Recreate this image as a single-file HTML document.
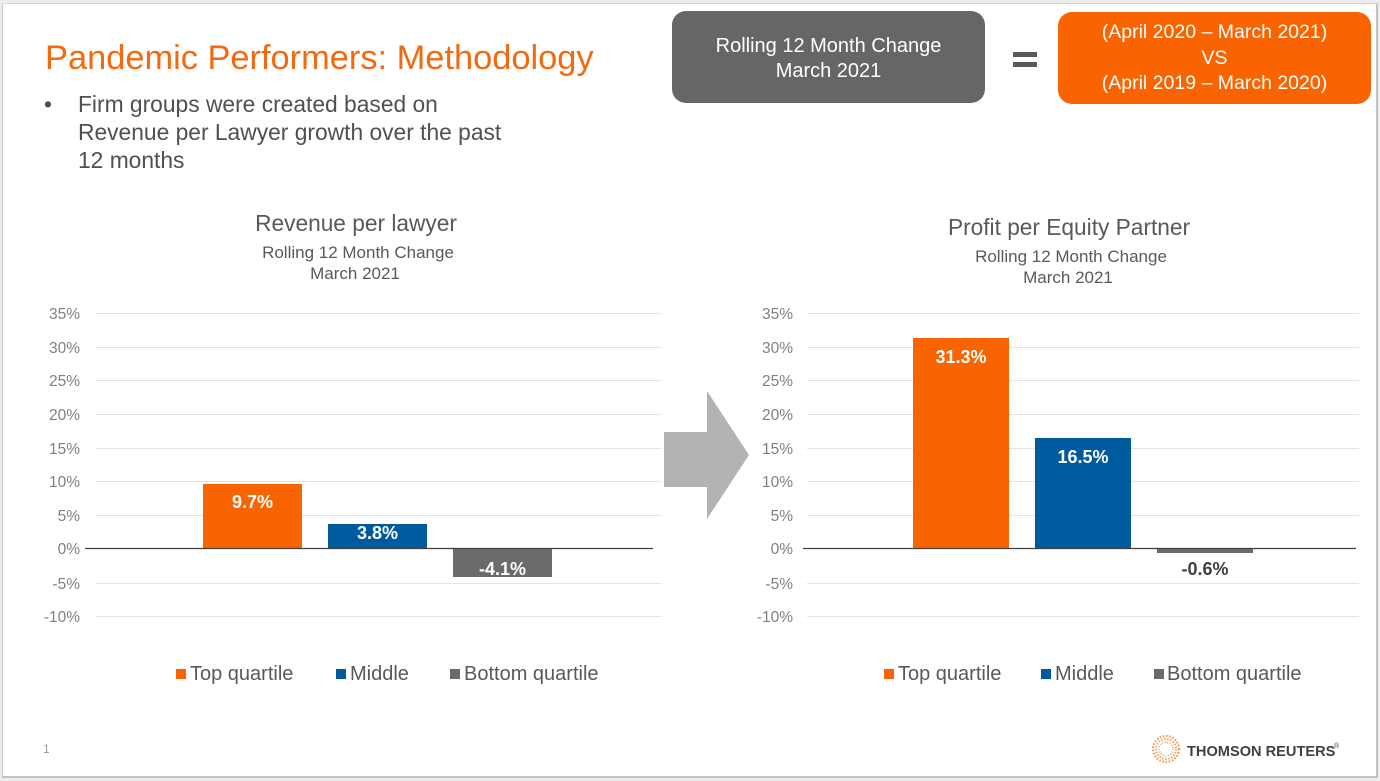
<!DOCTYPE html>
<html>
<head>
<meta charset="utf-8">
<style>
html,body{margin:0;padding:0;}
body{width:1380px;height:781px;background:#ececec;position:relative;overflow:hidden;font-family:"Liberation Sans",Arial,sans-serif;}
#slide{position:absolute;left:2px;top:3px;width:1373px;height:772px;background:#fff;border-left:1px solid #c8c8c8;border-top:1px solid #d8d8d8;border-right:2px solid #c4c4c4;border-bottom:2px solid #c4c4c4;}
.abs{position:absolute;white-space:nowrap;}
</style>
</head>
<body>
<div id="slide"></div>

<div class="abs" style="left:45px;top:38px;font-size:34.4px;color:#F26A10;line-height:40px;">Pandemic Performers: Methodology</div>

<div class="abs" style="left:44px;top:90px;font-size:22.8px;color:#505050;line-height:28px;">•</div>
<div class="abs" style="left:78px;top:90px;font-size:22.8px;color:#505050;line-height:28px;">Firm groups were created based on<br>Revenue per Lawyer growth over the past<br>12 months</div>

<!-- top boxes -->
<div class="abs" style="left:672px;top:11px;width:313px;height:92px;background:#666666;border-radius:14px;"></div>
<div class="abs" style="left:672px;top:34px;width:313px;text-align:center;font-size:20px;line-height:25px;color:#fff;">Rolling 12 Month Change<br>March 2021</div>

<div class="abs" style="left:1013px;top:52px;width:24px;height:5px;background:#595959;"></div>
<div class="abs" style="left:1013px;top:62px;width:24px;height:5px;background:#595959;"></div>

<div class="abs" style="left:1058px;top:12px;width:313px;height:92px;background:#FA6400;border-radius:14px;"></div>
<div class="abs" style="left:1058px;top:20px;width:313px;text-align:center;font-size:19.5px;line-height:25.5px;color:#fff;">(April 2020 – March 2021)<br>VS<br>(April 2019 – March 2020)</div>

<svg class="abs" style="left:0;top:0;" width="1380" height="781" xmlns="http://www.w3.org/2000/svg" font-family="Liberation Sans, Arial, sans-serif">
  <!-- Left chart titles -->
  <text x="356" y="231" text-anchor="middle" font-size="22.7" fill="#595959">Revenue per lawyer</text>
  <text x="358" y="258" text-anchor="middle" font-size="17" fill="#595959">Rolling 12 Month Change</text>
  <text x="355" y="279" text-anchor="middle" font-size="17" fill="#595959">March 2021</text>

  <!-- Left gridlines -->
  <g stroke="#e3e3e3" stroke-width="1">
    <line x1="96" x2="661" y1="313.5" y2="313.5"/>
    <line x1="96" x2="661" y1="347.5" y2="347.5"/>
    <line x1="96" x2="661" y1="380.5" y2="380.5"/>
    <line x1="96" x2="661" y1="414.5" y2="414.5"/>
    <line x1="96" x2="661" y1="448.5" y2="448.5"/>
    <line x1="96" x2="661" y1="481.5" y2="481.5"/>
    <line x1="96" x2="661" y1="515.5" y2="515.5"/>
    <line x1="96" x2="661" y1="583.5" y2="583.5"/>
    <line x1="96" x2="661" y1="616.5" y2="616.5"/>
  </g>
  <g font-size="15.5" fill="#808080" text-anchor="end">
    <text x="80" y="319">35%</text>
    <text x="80" y="353">30%</text>
    <text x="80" y="386">25%</text>
    <text x="80" y="420">20%</text>
    <text x="80" y="454">15%</text>
    <text x="80" y="487">10%</text>
    <text x="80" y="521">5%</text>
    <text x="80" y="554">0%</text>
    <text x="80" y="589">-5%</text>
    <text x="80" y="622">-10%</text>
  </g>
  <rect x="203" y="484" width="99" height="65" fill="#FA6400"/>
  <rect x="328" y="524" width="99" height="25" fill="#005A9E"/>
  <rect x="453" y="549" width="99" height="28" fill="#6B6B6B"/>
  <line x1="85" x2="653" y1="548.5" y2="548.5" stroke="#404040" stroke-width="1.2"/>
  <g font-size="18" font-weight="bold" fill="#fff" text-anchor="middle">
    <text x="252.5" y="508">9.7%</text>
    <text x="377.5" y="539">3.8%</text>
    <text x="502.5" y="575">-4.1%</text>
  </g>
  <!-- Left legend -->
  <rect x="176" y="669" width="10" height="10" fill="#FA6400"/>
  <text x="190" y="680" font-size="20" fill="#595959">Top quartile</text>
  <rect x="336" y="669" width="10" height="10" fill="#005A9E"/>
  <text x="350" y="680" font-size="20" fill="#595959">Middle</text>
  <rect x="450" y="669" width="10" height="10" fill="#6B6B6B"/>
  <text x="464" y="680" font-size="20" fill="#595959">Bottom quartile</text>

  <!-- Arrow -->
  <polygon points="664,432 707,432 707,391 749,455 707,519 707,487 664,487" fill="#B3B3B3"/>

  <!-- Right chart titles -->
  <text x="1069" y="235" text-anchor="middle" font-size="22.7" fill="#595959">Profit per Equity Partner</text>
  <text x="1071" y="262" text-anchor="middle" font-size="17" fill="#595959">Rolling 12 Month Change</text>
  <text x="1068" y="283" text-anchor="middle" font-size="17" fill="#595959">March 2021</text>

  <g stroke="#e3e3e3" stroke-width="1">
    <line x1="807" x2="1359" y1="313.5" y2="313.5"/>
    <line x1="807" x2="1359" y1="347.5" y2="347.5"/>
    <line x1="807" x2="1359" y1="380.5" y2="380.5"/>
    <line x1="807" x2="1359" y1="414.5" y2="414.5"/>
    <line x1="807" x2="1359" y1="448.5" y2="448.5"/>
    <line x1="807" x2="1359" y1="481.5" y2="481.5"/>
    <line x1="807" x2="1359" y1="515.5" y2="515.5"/>
    <line x1="807" x2="1359" y1="583.5" y2="583.5"/>
    <line x1="807" x2="1359" y1="616.5" y2="616.5"/>
  </g>
  <g font-size="15.5" fill="#808080" text-anchor="end">
    <text x="793" y="319">35%</text>
    <text x="793" y="353">30%</text>
    <text x="793" y="386">25%</text>
    <text x="793" y="420">20%</text>
    <text x="793" y="454">15%</text>
    <text x="793" y="487">10%</text>
    <text x="793" y="521">5%</text>
    <text x="793" y="554">0%</text>
    <text x="793" y="589">-5%</text>
    <text x="793" y="622">-10%</text>
  </g>
  <rect x="913" y="338" width="96" height="211" fill="#FA6400"/>
  <rect x="1035" y="438" width="96" height="111" fill="#005A9E"/>
  <rect x="1157" y="549" width="96" height="4" fill="#6B6B6B"/>
  <line x1="803" x2="1356" y1="548.5" y2="548.5" stroke="#404040" stroke-width="1.2"/>
  <g font-size="18" font-weight="bold" text-anchor="middle">
    <text x="961" y="363" fill="#fff">31.3%</text>
    <text x="1083" y="463" fill="#fff">16.5%</text>
    <text x="1205" y="575" fill="#404040">-0.6%</text>
  </g>
  <!-- Right legend -->
  <rect x="884" y="669" width="10" height="10" fill="#FA6400"/>
  <text x="898" y="680" font-size="20" fill="#595959">Top quartile</text>
  <rect x="1041" y="669" width="10" height="10" fill="#005A9E"/>
  <text x="1055" y="680" font-size="20" fill="#595959">Middle</text>
  <rect x="1154" y="669" width="10" height="10" fill="#6B6B6B"/>
  <text x="1167" y="680" font-size="20" fill="#595959">Bottom quartile</text>

  <!-- page number -->
  <text x="43" y="753" font-size="12" fill="#999">1</text>

  <!-- Logo -->
  <g fill="#F08A3C">
    <circle cx="1166" cy="749" r="13" fill="none" stroke="#F29A55" stroke-width="2.2" stroke-dasharray="1.6 1.6"/>
    <circle cx="1166" cy="749" r="10" fill="none" stroke="#F4A468" stroke-width="2" stroke-dasharray="1.5 1.5"/>
    <circle cx="1166" cy="749" r="7" fill="none" stroke="#F6B584" stroke-width="1.6" stroke-dasharray="1.3 1.3"/>
  </g>
  <text x="1187" y="756" font-size="14.6" font-weight="bold" fill="#404040">THOMSON REUTERS</text>
  <text x="1334" y="748" font-size="7" fill="#404040">®</text>
</svg>
</body>
</html>
